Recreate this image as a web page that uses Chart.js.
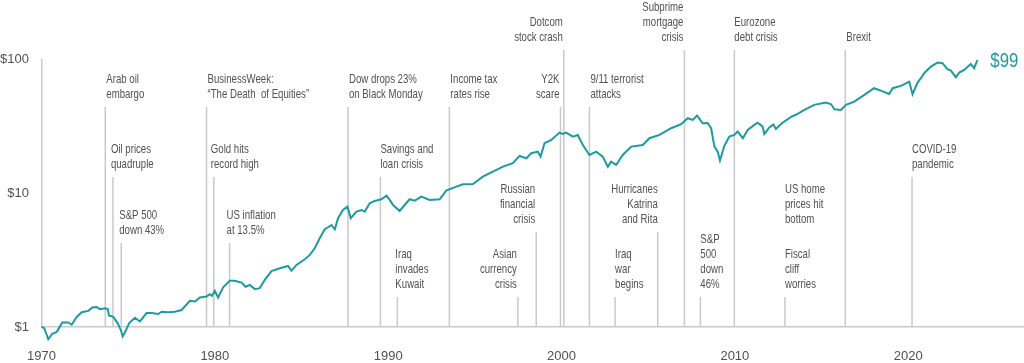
<!DOCTYPE html>
<html>
<head>
<meta charset="utf-8">
<script src="https://cdn.jsdelivr.net/npm/chart.js@4.4.1/dist/chart.umd.min.js"></script>
<style>
    html, body { margin: 0; padding: 0; background: #fff; }
    #wrap { width: 1024px; height: 363px; }
</style>
</head>
<body>
<div id="wrap"><canvas id="growthChart" width="1024" height="363"></canvas></div>
<script>
// growth of $1 (decimal years)
const years = [
    1970.00, 1970.16, 1970.39, 1970.62, 1970.88, 1971.20, 1971.54, 1971.74, 1972.03, 1972.32,
    1972.70, 1972.93, 1973.18, 1973.37, 1973.66, 1973.82, 1973.89, 1974.14, 1974.39, 1974.58,
    1974.68, 1974.81, 1975.06, 1975.39, 1975.68, 1976.06, 1976.35, 1976.73, 1976.93, 1977.31,
    1977.69, 1978.08, 1978.56, 1978.85, 1979.14, 1979.52, 1979.71, 1979.84, 1980.00, 1980.19,
    1980.48, 1980.86, 1981.15, 1981.54, 1981.77, 1982.02, 1982.31, 1982.59, 1982.88, 1983.27,
    1983.75, 1984.22, 1984.42, 1984.71, 1985.19, 1985.48, 1985.76, 1986.05, 1986.34, 1986.53,
    1986.73, 1986.92, 1987.11, 1987.39, 1987.65, 1987.84, 1988.17, 1988.46, 1988.65, 1988.93,
    1989.22, 1989.61, 1989.90, 1990.09, 1990.28, 1990.66, 1990.95, 1991.24, 1991.53, 1991.91,
    1992.39, 1992.97, 1993.35, 1993.93, 1994.31, 1994.89, 1995.46, 1996.04, 1996.62, 1997.19,
    1997.58, 1997.97, 1998.25, 1998.63, 1998.79, 1999.02, 1999.41, 1999.88, 2000.07, 2000.27,
    2000.65, 2000.94, 2001.23, 2001.61, 2002.00, 2002.38, 2002.67, 2002.86, 2003.15, 2003.53,
    2004.02, 2004.69, 2005.07, 2005.65, 2006.32, 2006.90, 2007.28, 2007.57, 2007.82, 2008.14,
    2008.43, 2008.63, 2008.82, 2009.01, 2009.14, 2009.39, 2009.68, 2009.97, 2010.16, 2010.46,
    2010.74, 2011.12, 2011.31, 2011.60, 2011.70, 2011.99, 2012.22, 2012.37, 2012.71, 2013.29,
    2013.62, 2014.01, 2014.58, 2015.26, 2015.55, 2015.74, 2016.12, 2016.41, 2016.89, 2017.47,
    2018.03, 2018.42, 2018.90, 2019.10, 2019.58, 2020.06, 2020.25, 2020.54, 2020.73, 2020.92,
    2021.31, 2021.69, 2021.98, 2022.26, 2022.46, 2022.75, 2022.94, 2023.23, 2023.61, 2023.80,
    2023.99
];
const values = [
    1.00, 0.98, 0.81, 0.89, 0.92, 1.08, 1.08, 1.04, 1.19, 1.29,
    1.32, 1.40, 1.41, 1.36, 1.38, 1.36, 1.22, 1.19, 1.07, 0.95,
    0.85, 0.91, 1.07, 1.17, 1.10, 1.27, 1.27, 1.25, 1.30, 1.29,
    1.30, 1.34, 1.57, 1.55, 1.66, 1.69, 1.76, 1.71, 1.86, 1.66,
    1.98, 2.22, 2.22, 2.15, 2.00, 2.06, 1.92, 1.95, 2.25, 2.62,
    2.75, 2.86, 2.64, 2.91, 3.21, 3.46, 3.88, 4.61, 5.38, 5.57,
    5.79, 5.38, 6.50, 7.50, 7.94, 6.50, 7.29, 7.50, 7.29, 8.42,
    8.76, 9.02, 9.59, 8.91, 8.17, 7.37, 8.17, 9.02, 8.81, 9.43,
    8.91, 9.02, 10.46, 11.20, 11.68, 11.74, 13.31, 14.51, 15.81, 16.76,
    19.01, 18.27, 19.92, 20.48, 18.78, 23.66, 25.05, 28.40, 27.77, 28.40,
    26.51, 27.29, 22.97, 19.34, 20.48, 18.78, 15.81, 17.23, 16.28, 19.34,
    22.32, 22.97, 25.79, 27.29, 30.64, 32.82, 36.39, 35.35, 38.06, 33.39,
    33.56, 30.64, 22.32, 20.48, 17.59, 22.58, 26.51, 27.29, 28.89, 25.79,
    29.75, 32.43, 33.73, 31.60, 27.77, 31.06, 32.71, 30.27, 33.39, 37.5,
    39.2, 42.0, 45.8, 47.6, 46.3, 42.5, 42.0, 45.8, 48.4, 54.4,
    61.0, 58.5, 55.3, 61.0, 63.5, 68.3, 55.0, 67.2, 72.5, 79.0,
    88.5, 94.8, 93.8, 84.6, 82.6, 73.7, 79.8, 83.6, 92.7, 86.1,
    99.0
];

const xTickYears = [1970, 1980, 1990, 2000, 2010, 2020];
const yTickValues = [1, 10, 100];
const endLabel = '$99';

// events: date of the vertical line and its caption lines
const eventYears = [
    1973.68, 1974.12, 1974.60, 1979.52, 1979.94, 1980.85, 1987.68, 1989.55,
    1990.53, 1993.53, 1997.48, 1998.54, 1999.94, 2000.13, 2001.61, 2003.09,
    2005.55, 2007.09, 2008.01, 2009.97, 2012.89, 2012.89, 2016.37, 2020.22
];
const eventLabels = [
    ['Arab oil', 'embargo'],
    ['Oil prices', 'quadruple'],
    ['S&P 500', 'down 43%'],
    ['BusinessWeek:', '\u201CThe Death  of Equities\u201D'],
    ['Gold hits', 'record high'],
    ['US inflation', 'at 13.5%'],
    ['Dow drops 23%', 'on Black Monday'],
    ['Savings and', 'loan crisis'],
    ['Iraq', 'invades', 'Kuwait'],
    ['Income tax', 'rates rise'],
    ['Asian', 'currency', 'crisis'],
    ['Russian', 'financial', 'crisis'],
    ['Y2K', 'scare'],
    ['Dotcom', 'stock crash'],
    ['9/11 terrorist', 'attacks'],
    ['Iraq', 'war', 'begins'],
    ['Hurricanes', 'Katrina', 'and Rita'],
    ['Subprime', 'mortgage', 'crisis'],
    ['S&P', '500', 'down', '46%'],
    ['Eurozone', 'debt crisis'],
    ['US home', 'prices hit', 'bottom'],
    ['Fiscal', 'cliff', 'worries'],
    ['Brexit'],
    ['COVID-19', 'pandemic']
];

// layout only: top of each line (px), text alignment, text x offset, whether a line is drawn
const eventLayout = [
    [107, 'left', 1, true], [177, 'left', -2, true], [243, 'left', -2, true],
    [107, 'left', 1, true], [177, 'left', -3, true], [243, 'left', -3, true],
    [107, 'left', 1, true], [177, 'left', 0, true], [297, 'left', -2, true],
    [107, 'left', 1, true], [297, 'right', -1, true], [232, 'right', -1, true],
    [107, 'right', -1, true], [50, 'right', -1, true], [107, 'left', 1, true],
    [297, 'left', 0, true], [232, 'right', 0, true], [50, 'right', -1, true],
    [297, 'left', 0, true], [50, 'left', 0, true], [232, 'left', 0, false],
    [297, 'left', 0, true], [50, 'left', 1, true], [177, 'left', 0, true]
];

const TEAL = '#1c9ba0';
const GREY_LINE = '#c9c9c9';
const TEXT = '#505153';
const FAMILY = '"Liberation Sans", Arial, sans-serif';
const SQUEEZE = 0.74;   // the original face is a condensed sans

document.addEventListener('DOMContentLoaded', () => {
    const drawSqueezed = (ctx, txt, x, y, sx) => {
        ctx.save();
        ctx.translate(x, y);
        ctx.scale(sx, 1);
        ctx.fillText(txt, 0, 0);
        ctx.restore();
    };

    const eventsPlugin = {
        id: 'events',
        beforeDatasetsDraw(chart) {
            const { ctx, scales: { x, y } } = chart;
            const base = y.getPixelForValue(1);
            ctx.save();
            ctx.font = '13px ' + FAMILY;
            ctx.fillStyle = TEXT;
            ctx.textBaseline = 'middle';
            eventYears.forEach((yr, i) => {
                const [top, align, dx, hasLine] = eventLayout[i];
                const px = x.getPixelForValue(yr);
                if (hasLine) {
                    ctx.strokeStyle = GREY_LINE;
                    ctx.lineWidth = 1.5;
                    ctx.beginPath();
                    ctx.moveTo(px, top);
                    ctx.lineTo(px, base);
                    ctx.stroke();
                }
                const lines = eventLabels[i];
                ctx.textAlign = align;
                lines.forEach((txt, k) => {
                    const ty = top - 13 - 15 * (lines.length - 1 - k);
                    drawSqueezed(ctx, txt, px + dx, ty, SQUEEZE);
                });
            });
            ctx.restore();
        },
        afterDatasetsDraw(chart) {
            const { ctx } = chart;
            const pts = chart.getDatasetMeta(0).data;
            const last = pts[pts.length - 1];
            ctx.save();
            ctx.font = '21px ' + FAMILY;
            ctx.fillStyle = TEAL;
            ctx.textAlign = 'left';
            ctx.textBaseline = 'middle';
            drawSqueezed(ctx, endLabel, last.x + 13, last.y + 1, 0.8);
            ctx.restore();
        }
    };

    const ctx = document.getElementById('growthChart').getContext('2d');
    new Chart(ctx, {
        type: 'line',
        data: {
            datasets: [{
                data: years.map((yr, i) => ({ x: yr, y: values[i] })),
                borderColor: TEAL,
                borderWidth: 2,
                pointRadius: 0,
                tension: 0,
                clip: false
            }]
        },
        options: {
            responsive: false,
            animation: false,
            devicePixelRatio: 1,
            layout: { padding: { top: 59.5, left: 0, right: 0, bottom: 0 } },
            plugins: { legend: { display: false }, tooltip: { enabled: false } },
            scales: {
                x: {
                    type: 'linear',
                    min: 1970,
                    max: 2026.68,
                    grid: { display: false, drawTicks: false },
                    border: { display: true, color: GREY_LINE, width: 1.5 },
                    afterBuildTicks: s => { s.ticks = xTickYears.map(v => ({ value: v })); },
                    afterFit: s => { s.height = 36; },
                    ticks: {
                        autoSkip: false,
                        maxRotation: 0,
                        padding: 21.5,
                        color: TEXT,
                        font: { family: FAMILY, size: 13 },
                        callback: v => String(v)
                    }
                },
                y: {
                    type: 'logarithmic',
                    min: 1,
                    max: 100,
                    grid: { display: false, drawTicks: false },
                    border: { display: true, color: GREY_LINE, width: 1.5 },
                    afterBuildTicks: s => { s.ticks = yTickValues.map(v => ({ value: v })); },
                    afterFit: s => { s.width = 41.5; },
                    ticks: {
                        padding: 12.5,
                        color: TEXT,
                        font: { family: FAMILY, size: 13 },
                        callback: v => '$' + v
                    }
                }
            }
        },
        plugins: [eventsPlugin]
    });
});
</script>
</body>
</html>
